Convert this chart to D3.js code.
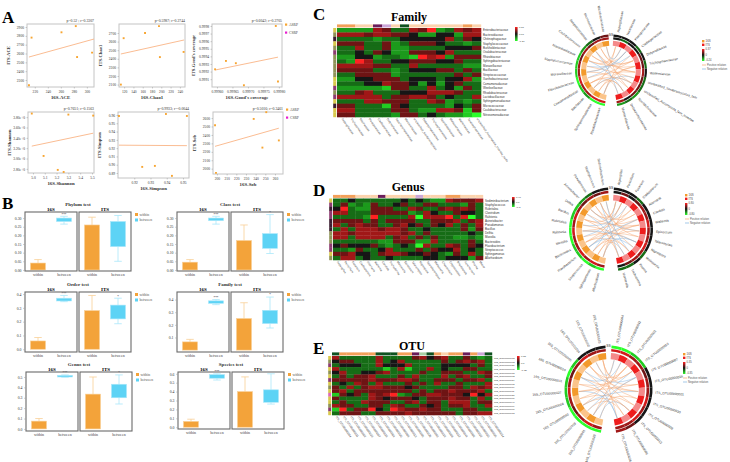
<!DOCTYPE html>
<html>
<head>
<meta charset="utf-8">
<script src="https://cdn.jsdelivr.net/npm/d3@7"></script>
<style>
  body { margin: 0; background: #fff; }
  svg { display: block; }
</style>
</head>
<body>
<svg id="fig" width="730" height="462"></svg>
<script>
// ---------- Panel A : alpha diversity correlations ----------
const alphaNames = ["ACE", "Chao1", "Good's coverage", "Shannon", "Simpson", "Sob"];
const alphaStats = ["p=0.52 ; r=0.3307", "p=0.5987; r=0.2744", "p=0.6042; r=0.2705",
                    "p=0.7651; r=0.1563", "p=0.9933; r=-0.0044", "p=0.5016; r=0.3461"];
const alphaPoints = [
  [[211, 2240], [215, 2780], [261, 2840], [283, 2910], [285, 2560], [308, 2610]],
  [[113, 2100], [119, 2640], [165, 2700], [195, 2780], [197, 2420], [248, 2480]],
  [[0.999594, 0.99923], [0.999629, 0.99934], [0.999661, 0.99931], [0.999687, 0.99902], [0.999790, 0.99980], [0.999797, 0.99907]],
  [[4.99, 3.87], [5.09, 3.05], [5.21, 2.78], [5.26, 2.74], [5.30, 3.85], [5.51, 3.83]],
  [[0.9106, 0.9588], [0.9249, 0.8974], [0.9327, 0.8986], [0.9395, 0.9612], [0.9432, 0.8866], [0.9524, 0.9588]],
  [[198, 2515], [238, 2590], [251, 2670], [247, 2250], [264, 2335], [199, 1950]]
];
const alphaFit = [
  [211, 2560, 311, 2764], [113, 2456, 249, 2619], [0.999594, 0.99922, 0.999797, 0.99939],
  [4.99, 3.24, 5.51, 3.49], [0.9106, 0.9236, 0.9524, 0.9230], [198, 2265, 264, 2480]
];
const alphaXDomain = [[208, 311], [109, 251], [0.999584, 0.999810], [4.958, 5.517], [0.910, 0.9537], [195.9, 268.3]];
const alphaYDomain = [[2221, 2934], [2072, 2805], [0.998997, 0.999826], [2.72, 3.90], [0.884, 0.9636], [1937, 2672]];
const alphaXTicks = [[220, 240, 260, 280, 300], [120, 140, 160, 180, 200, 220, 240],
  [0.99960, 0.99965, 0.99970, 0.99975, 0.99980], [5.0, 5.1, 5.2, 5.3, 5.4, 5.5],
  [0.92, 0.93, 0.94, 0.95], [200, 210, 220, 230, 240, 250, 260]];
const alphaYTicks = [[2300, 2400, 2500, 2600, 2700, 2800, 2900], [2100, 2200, 2300, 2400, 2500, 2600, 2700],
  [0.9991, 0.9992, 0.9993, 0.9994, 0.9995, 0.9996, 0.9997, 0.9998], [2.8, 3.0, 3.2, 3.4, 3.6, 3.8],
  [0.89, 0.90, 0.91, 0.92, 0.93, 0.94, 0.95, 0.96], [2000, 2100, 2200, 2300, 2400, 2500, 2600]];
const alphaGroups = ["ASRP", "CSRP"];

// ---------- Panel B : within / between distances ----------
const levels = ["Phylum", "Class", "Order", "Family", "Genus", "Species"];
const boxGroups = ["within", "between"];
// [lower whisker, q1, q3, upper whisker]
const within16S  = [[0, 0, 0.040, 0.060], [0, 0, 0.045, 0.060], [0, 0, 0.060, 0.085], [0, 0, 0.065, 0.085], [0, 0, 0.075, 0.100], [0, 0, 0.065, 0.090]];
const between16S = [[0.265, 0.280, 0.300, 0.310], [0.265, 0.285, 0.300, 0.310], [0.345, 0.350, 0.370, 0.390], [0.360, 0.370, 0.390, 0.400], [0.498, 0.500, 0.515, 0.520], [0.530, 0.550, 0.590, 0.600]];
const withinITS  = [[0, 0, 0.260, 0.305], [0, 0, 0.170, 0.260], [0, 0, 0.280, 0.390], [0, 0, 0.250, 0.375], [0, 0, 0.335, 0.500], [0, 0, 0.400, 0.565]];
const betweenITS = [[0.050, 0.135, 0.280, 0.315], [0.095, 0.125, 0.210, 0.320], [0.185, 0.220, 0.320, 0.370], [0.175, 0.210, 0.315, 0.420], [0.240, 0.300, 0.430, 0.520], [0.260, 0.280, 0.420, 0.600]];
const sig16S = ["***", "***", "***", "***", "***", "***"];
const sigITS = ["", "*", "*", "*", "*", ""];
const boxYDomain = [[-0.006, 0.335], [-0.006, 0.335], [-0.02, 0.415], [-0.015, 0.46], [-0.02, 0.548], [-0.02, 0.62]];
const boxYTicks = [[0, 0.05, 0.10, 0.15, 0.20, 0.25, 0.30], [0, 0.05, 0.10, 0.15, 0.20, 0.25, 0.30],
  [0, 0.1, 0.2, 0.3, 0.4], [0.1, 0.2, 0.3, 0.4], [0, 0.1, 0.2, 0.3, 0.4, 0.5], [0, 0.1, 0.2, 0.3, 0.4, 0.5, 0.6]];

// ---------- Panels C-E : correlation heatmaps (0 = strong negative ... 8 = strong positive) ----------
const famRows = ["Enterobacteriaceae", "Bacteroidaceae", "Chitinophagaceae", "Staphylococcaceae", "Burkholderiaceae",
  "Oxalobacteraceae", "Rhizobiaceae", "Sphingobacteriaceae", "Moraxellaceae", "Bacillaceae", "Streptococcaceae",
  "Xanthobacteraceae", "Comamonadaceae", "Weeksellaceae", "Rhodobacteraceae", "Lactobacillaceae",
  "Sphingomonadaceae", "Micrococcaceae", "Caulobacteraceae", "Nitrosomonadaceae"];
const famCols = ["Aspergillaceae", "Trichocomaceae", "Nectriaceae", "Pleosporaceae", "Cladosporiaceae",
  "Didymellaceae", "Saccharomycetaceae", "Mortierellaceae", "unclassified_Sordariomycetes", "Debaryomycetaceae",
  "Trichosphaeriaceae", "Sporidiobolaceae", "Malasseziaceae", "Wallemiaceae", "Teratosphaeriaceae",
  "unclassified_Ascomycota_Incertae_sedis"];
const famCells = ["2222653365823656", "6665665542244266", "3333233444446354", "5553352355543323",
  "3363352233334445", "3343542255546333", "2244233218672555", "3286334455544533", "6666553363333322",
  "5555332344455353", "3355552333333535", "2244555344434462", "3334465542424533", "2222215533634253",
  "3356333444666533", "6666635566534336", "3336655533652323", "5533315433332435", "6633335532266515",
  "5533332553432210"];
const famTop = "ooppvlpgppppppop";
const famLeft = "ynkynmnnnnnyymnmykyy";
const famScale = ["0.37", "0.07", "-0.24"];

const genRows = ["Sediminibacterium", "Staphylococcus", "Rubritalea", "Clostridium", "Ralstonia",
  "Acinetobacter", "Pseudomonas", "Bacillus", "Delftia", "Massilia", "Bacteroides", "Flavobacterium",
  "Streptococcus", "Sphingomonas", "Allorhizobium"];
const genCols = ["Aspergillus", "Penicillium", "Fusarium", "Cladosporium", "Alternaria", "Wallemia", "Candida",
  "Trichoderma", "Mortierella", "Epicoccum", "Talaromyces", "Nigrospora", "Sporobolomyces", "Malassezia",
  "Chaetomium", "Cryptococcus", "Rhodotorula", "Acremonium", "Phoma", "Mucor"];
const genCells = ["33433333343432265556", "35232533453355333253", "48322555336533565653", "66333555552364335443",
  "33332833336066683703", "55553535555335556356", "63565533564535463536", "36366656653343333525",
  "66566666656353333343", "66366663563535332232", "33333322555226333353", "45444532343063365354",
  "33253346333535446343", "55644356654454325363", "36634334333344344425"];
const genTop = "ooopppvpppplpppooppp";
const genLeft = "ymkmmkkknnnmmyn";
const genScale = ["0.40", "0.0", "-0.8"];

const otuRows = ["16S_OTU00000012", "16S_OTU00000003", "16S_OTU00000021", "16S_OTU00000008", "16S_OTU00000015",
  "16S_OTU00000002", "16S_OTU00000034", "16S_OTU00000005", "16S_OTU00000019", "16S_OTU00000011",
  "16S_OTU00000027", "16S_OTU00000006", "16S_OTU00000040", "16S_OTU00000009", "16S_OTU00000001",
  "16S_OTU00000018"];
const otuCols = ["ITS_OTU00000004", "ITS_OTU00000011", "ITS_OTU00000002", "ITS_OTU00000023", "ITS_OTU00000007",
  "ITS_OTU00000016", "ITS_OTU00000001", "ITS_OTU00000030", "ITS_OTU00000009", "ITS_OTU00000013",
  "ITS_OTU00000005", "ITS_OTU00000026", "ITS_OTU00000003", "ITS_OTU00000019", "ITS_OTU00000008",
  "ITS_OTU00000012", "ITS_OTU00000041", "ITS_OTU00000006", "ITS_OTU00000022", "ITS_OTU00000010",
  "ITS_OTU00000035", "ITS_OTU00000014"];
const otuCells = ["6333336333356456335323", "4553336346333335356563", "3444336444633334444353",
  "6333333136133634335533", "4633445633335335553365", "3535563335363336356335", "5555565556653355535563",
  "3436536333535363353336", "5363566555453333553656", "5635555555535355655563", "1545365682355665554846",
  "5333365455543555655363", "3533655533563553666355", "6553355365335453556336", "1835584386556553335533",
  "3555335555655555535566"];
const otuTop = "gooooogggoovqgopoovolg";
const otuLeft = "ynmynymynyiyynmy";
const otuScale = ["0.35", "0.0", "-0.35"];

// ---------- Panels C-E : network circles ----------
const famLeftNodes = ["Rhodobacteraceae", "Sphingomonadaceae", "Bacillaceae", "Comamonadaceae", "Flavobacteriaceae",
  "Moraxellaceae", "Staphylococcaceae", "Nocardioidaceae", "Caulobacteraceae", "Streptococcaceae",
  "Micrococcaceae", "Microbacteriaceae"];
const famRightNodes = ["Aspergillaceae", "Nectriaceae", "Pleosporaceae", "Cladosporiaceae", "Didymellaceae",
  "Trichosphaeriaceae", "Wallemiaceae", "unclassified_Sordariomycetes_fam", "unclassified_Ascomycota_fam_Incertae",
  "Sporidiobolaceae", "Debaryomycetaceae", "Mortierellaceae"];
const famRing2 = "776676656566" + "434455655546";
const famRing3 = "002101112345" + "444343433232";
const famLinks = [[0, 3, 1], [0, 7, -1], [1, 5, 1], [1, 10, 1], [2, 0, 1], [2, 8, -1], [3, 4, 1], [3, 11, 1],
  [4, 2, -1], [4, 6, 1], [5, 9, 1], [5, 1, 1], [6, 3, -1], [6, 7, 1], [7, 0, 1], [7, 10, -1], [8, 5, 1],
  [8, 2, 1], [9, 8, 1], [9, 11, -1], [10, 4, 1], [10, 6, 1], [11, 1, -1], [11, 9, 1], [0, 5, 1], [3, 8, 1],
  [5, 2, -1], [7, 4, 1], [9, 6, 1], [2, 10, 1]];
const famLegend = ["0.37", "0", "-0.24"];

const genLeftNodes = ["Allorhizobium", "Sphingomonas", "Streptococcus", "Flavobacterium", "Bacteroides",
  "Massilia", "Ralstonia", "Rubritalea", "Bacillus", "Delftia", "Acinetobacter", "Pseudomonas",
  "Staphylococcus", "Sediminibacterium"];
const genRightNodes = ["Aspergillus", "Penicillium", "Fusarium", "Cladosporium", "Alternaria", "Candida",
  "Wallemia", "Epicoccum", "Talaromyces", "Nigrospora", "Malassezia", "Phoma", "Trichoderma", "Mortierella"];
const genRing2 = "67676676765656" + "45456676676654";
const genRing3 = "01011000112344" + "44434444443433";
const genLinks = [[0, 2, 1], [0, 9, -1], [1, 5, 1], [1, 12, 1], [2, 0, -1], [2, 7, 1], [3, 3, 1], [3, 10, -1],
  [4, 6, 1], [4, 13, 1], [5, 1, -1], [5, 8, 1], [6, 4, 1], [6, 11, 1], [7, 2, -1], [7, 9, 1], [8, 5, 1],
  [8, 0, 1], [9, 12, -1], [9, 6, 1], [10, 3, 1], [10, 7, -1], [11, 10, 1], [11, 1, 1], [12, 13, -1],
  [12, 4, 1], [13, 8, 1], [13, 11, -1], [0, 6, 1], [2, 11, 1], [4, 1, 1], [6, 9, -1], [8, 13, 1],
  [10, 0, 1], [12, 7, 1], [3, 5, -1]];
const genLegend = ["0.80", "0", "-0.80"];

const otuLeftNodes = ["16S_OTU00000018", "16S_OTU00000001", "16S_OTU00000009", "16S_OTU00000040",
  "16S_OTU00000006", "16S_OTU00000027", "16S_OTU00000011", "16S_OTU00000019", "16S_OTU00000005",
  "16S_OTU00000034", "16S_OTU00000002", "16S_OTU00000015"];
const otuRightNodes = ["ITS_OTU00000004", "ITS_OTU00000011", "ITS_OTU00000002", "ITS_OTU00000023",
  "ITS_OTU00000007", "ITS_OTU00000016", "ITS_OTU00000001", "ITS_OTU00000030", "ITS_OTU00000009",
  "ITS_OTU00000013", "ITS_OTU00000005", "ITS_OTU00000026"];
const otuRing2 = "676567656766" + "776656676766";
const otuRing3 = "000011101444" + "001144444456";
const otuLinks = [[0, 4, 1], [0, 9, -1], [1, 1, 1], [1, 7, 1], [2, 3, -1], [2, 10, 1], [3, 0, 1], [3, 6, -1],
  [4, 8, 1], [4, 2, 1], [5, 11, -1], [5, 5, 1], [6, 3, 1], [6, 9, 1], [7, 1, -1], [7, 6, 1], [8, 10, 1],
  [8, 4, -1], [9, 2, 1], [9, 8, 1], [10, 0, -1], [10, 7, 1], [11, 5, 1], [11, 11, 1], [1, 4, -1], [3, 9, 1],
  [5, 2, 1], [7, 11, -1], [9, 6, 1], [11, 3, 1]];
const otuLegend = ["0.35", "0", "-0.35"];

// ---------- drawing ----------
const serif = "'Liberation Serif', 'DejaVu Serif', serif";
const sans = "'Liberation Sans', 'DejaVu Sans', sans-serif";
const orange = "#f3a33a", cyan = "#5dd3f5";

const svg = d3.select("#fig");
svg.append("rect").attr("width", 730).attr("height", 462).attr("fill", "#fff");

const heat = d3.scaleLinear().domain(d3.range(9))
  .range(["#2bff2b", "#22cc22", "#1c9a1c", "#166c16", "#161616", "#6e1414", "#a01717", "#d21b1b", "#ff2222"]);
const annColor = { o: "#f3a05a", p: "#fcd3ad", v: "#6a1c5a", l: "#cba6d8", g: "#0f5220", q: "#a9cfa3",
  y: "#d8c94c", k: "#3b1d30", m: "#8d3b70", n: "#8f9358", i: "#e068b8" };

const defs = svg.append("defs");
const grad = defs.append("linearGradient").attr("id", "heatGrad").attr("x1", 0).attr("x2", 0).attr("y1", 0).attr("y2", 1);
[[0, 8], [0.5, 4], [1, 0]].forEach(([o, v]) => grad.append("stop").attr("offset", o).attr("stop-color", heat(v)));

function letter(t, x, y) {
  svg.append("text").attr("x", x).attr("y", y).text(t)
    .attr("font-family", serif).attr("font-weight", "bold").attr("font-size", 17);
}

function styleAxis(a, fs) {
  a.select(".domain").remove();
  a.selectAll("line").attr("stroke", "#888").attr("stroke-width", 0.4);
  a.selectAll("text").attr("font-size", fs).attr("font-family", serif).attr("fill", "#333");
}

// Panel A
const aBoxes = [[27, 24, 94, 87], [119, 24, 185, 87], [212, 24, 282, 87],
                [28, 112, 94, 173], [118, 112, 189, 178], [213, 112, 283, 174]];
const aFormats = [d3.format("d"), d3.format("d"), d3.format(".5f"), d3.format(".1f"), d3.format(".2f"), d3.format("d")];
const aYFormats = [d3.format("d"), d3.format("d"), d3.format(".4f"), d3.format(".2e"), d3.format(".2f"), d3.format("d")];

function drawScatter(i) {
  const [bx0, by0, bx1, by1] = aBoxes[i];
  const x = d3.scaleLinear().domain(alphaXDomain[i]).range([bx0, bx1]);
  const y = d3.scaleLinear().domain(alphaYDomain[i]).range([by1, by0]);
  const g = svg.append("g");
  g.append("rect").attr("x", bx0).attr("y", by0).attr("width", bx1 - bx0).attr("height", by1 - by0)
    .attr("fill", "none").attr("stroke", "#c4c4c4").attr("stroke-width", 1);
  const xa = g.append("g").attr("transform", `translate(0,${by1})`)
    .call(d3.axisBottom(x).tickValues(alphaXTicks[i]).tickFormat(aFormats[i]).tickSize(1.5).tickPadding(1.5));
  styleAxis(xa, 3.6);
  const ya = g.append("g").attr("transform", `translate(${bx0},0)`)
    .call(d3.axisLeft(y).tickValues(alphaYTicks[i]).tickFormat(aYFormats[i]).tickSize(1.5).tickPadding(1.5));
  styleAxis(ya, 3.6);
  const f = alphaFit[i];
  g.append("line").attr("x1", x(f[0])).attr("y1", y(f[1])).attr("x2", x(f[2])).attr("y2", y(f[3]))
    .attr("stroke", "#f9b486").attr("stroke-width", 0.9);
  g.selectAll(".pt").data(alphaPoints[i]).join("path")
    .attr("transform", d => `translate(${x(d[0])},${y(d[1])})`)
    .attr("d", d3.symbol(d3.symbolSquare, 3.6)).attr("fill", "#f7a531");
  g.append("text").attr("x", bx1).attr("y", by0 - 1.8).attr("text-anchor", "end")
    .attr("font-size", 3.8).attr("font-family", serif).attr("fill", "#333").text(alphaStats[i]);
  g.append("text").attr("x", (bx0 + bx1) / 2).attr("y", by1 + 12).attr("text-anchor", "middle")
    .attr("font-size", 4.8).attr("font-weight", "bold").attr("font-family", serif).attr("fill", "#333")
    .text("16S-" + alphaNames[i]);
  g.append("text").attr("transform", `translate(${bx0 - 17},${(by0 + by1) / 2}) rotate(-90)`)
    .attr("text-anchor", "middle").attr("font-size", 4.6).attr("font-weight", "bold")
    .attr("font-family", serif).attr("fill", "#333").text("ITS-" + alphaNames[i]);
}
d3.range(6).forEach(drawScatter);

[[285, 25], [286, 110]].forEach(([lx, ly]) => {
  alphaGroups.forEach((grp, k) => {
    svg.append("rect").attr("x", lx).attr("y", ly + k * 8 - 1.5).attr("width", 2.2).attr("height", 2.2)
      .attr("fill", k ? "#e81ecf" : "#f7a531");
    svg.append("text").attr("x", lx + 4).attr("y", ly + k * 8 + 0.8).attr("font-size", 3.6)
      .attr("font-family", serif).attr("fill", "#444").text(grp);
  });
});

// Panel B
const bPos = [[25, 212, 271], [177, 212, 271], [25, 292, 352], [177, 292, 352], [26, 372, 431], [178, 372, 429]];
function drawBoxes(i) {
  const [lx, top, bot] = bPos[i];
  const pw = 52, gap = 2;
  const y = d3.scaleLinear().domain(boxYDomain[i]).range([bot, top]);
  const g = svg.append("g");
  const panels = [
    { name: "16S", x0: lx, stats: [within16S[i], between16S[i]], sig: sig16S[i] },
    { name: "ITS", x0: lx + pw + gap, stats: [withinITS[i], betweenITS[i]], sig: sigITS[i] }
  ];
  panels.forEach(p => {
    const x = d3.scalePoint().domain(boxGroups).range([p.x0, p.x0 + pw]).padding(0.5);
    const bw = 15;
    boxGroups.forEach((grp, k) => {
      const [lo, q1, q3, hi] = p.stats[k];
      const cx = x(grp);
      const fill = k ? cyan : orange;
      const light = k ? "#a9e7fa" : "#f9cf96";
      g.append("line").attr("x1", cx).attr("x2", cx).attr("y1", y(q3)).attr("y2", y(hi)).attr("stroke", light).attr("stroke-width", 0.8);
      g.append("line").attr("x1", cx - bw / 4).attr("x2", cx + bw / 4).attr("y1", y(hi)).attr("y2", y(hi)).attr("stroke", light).attr("stroke-width", 0.8);
      if (lo < q1) {
        g.append("line").attr("x1", cx).attr("x2", cx).attr("y1", y(q1)).attr("y2", y(lo)).attr("stroke", light).attr("stroke-width", 0.8);
        g.append("line").attr("x1", cx - bw / 4).attr("x2", cx + bw / 4).attr("y1", y(lo)).attr("y2", y(lo)).attr("stroke", light).attr("stroke-width", 0.8);
      }
      g.append("rect").attr("x", cx - bw / 2).attr("y", y(q3)).attr("width", bw).attr("height", y(q1) - y(q3))
        .attr("fill", fill).attr("stroke", light).attr("stroke-width", 0.6);
      g.append("text").attr("x", cx).attr("y", bot + 5.2).attr("text-anchor", "middle").attr("font-size", 4)
        .attr("font-family", serif).attr("fill", "#444").text(grp);
    });
    if (p.sig) {
      g.append("text").attr("x", x("between")).attr("y", y(p.stats[1][3]) - 0.6).attr("text-anchor", "middle")
        .attr("font-size", 4.2).attr("font-family", sans).attr("fill", "#333").text(p.sig);
    }
    g.append("rect").attr("x", p.x0).attr("y", top).attr("width", pw).attr("height", bot - top)
      .attr("fill", "none").attr("stroke", "#6a6a6a").attr("stroke-width", 1.1);
    g.append("text").attr("x", p.x0 + pw / 2).attr("y", top - 1.2).attr("text-anchor", "middle")
      .attr("font-size", 5).attr("font-weight", "bold").attr("font-family", serif).text(p.name);
  });
  const ya = g.append("g").attr("transform", `translate(${lx - 0.6},0)`)
    .call(d3.axisLeft(y).tickValues(boxYTicks[i]).tickFormat(d3.format(i < 2 ? ".2f" : ".1f")).tickSize(1.4).tickPadding(1.5));
  styleAxis(ya, 3.8);
  g.append("text").attr("x", lx + pw + gap / 2).attr("y", top - 5.6).attr("text-anchor", "middle")
    .attr("font-size", 5).attr("font-weight", "bold").attr("font-family", serif).attr("fill", "#333")
    .text(levels[i] + " test");
  const lgx = lx + 2 * pw + gap + 4;
  boxGroups.forEach((grp, k) => {
    g.append("rect").attr("x", lgx).attr("y", top + 1 + k * 5.5).attr("width", 3).attr("height", 3)
      .attr("fill", k ? cyan : orange);
    g.append("text").attr("x", lgx + 4.5).attr("y", top + 3.6 + k * 5.5).attr("font-size", 3.8)
      .attr("font-family", serif).attr("fill", "#555").text(grp);
  });
}
d3.range(6).forEach(drawBoxes);

// Heatmaps
function drawHeatmap(s) {
  const rows = s.cells.map(r => r.split("").map(Number));
  const nc = rows[0].length;
  const x = d3.scaleBand().domain(d3.range(nc)).range([s.x0, s.x1]);
  const y = d3.scaleBand().domain(d3.range(rows.length)).range([s.y0, s.y1]);
  const g = svg.append("g");
  rows.forEach((r, ri) => {
    g.selectAll(null).data(r).join("rect")
      .attr("x", (d, ci) => x(ci)).attr("y", y(ri))
      .attr("width", x.bandwidth() + 0.3).attr("height", y.bandwidth() + 0.3)
      .attr("fill", d => heat(d));
  });
  g.selectAll(null).data(s.top.split("")).join("rect")
    .attr("x", (d, ci) => x(ci)).attr("y", s.y0 - 3.6).attr("width", x.bandwidth() + 0.2).attr("height", 3)
    .attr("fill", d => annColor[d]);
  g.selectAll(null).data(s.left.split("")).join("rect")
    .attr("x", s.x0 - 3.8).attr("y", (d, ri) => y(ri)).attr("width", 3).attr("height", y.bandwidth() + 0.2)
    .attr("fill", d => annColor[d]);
  g.selectAll(null).data(s.rowNames).join("text")
    .attr("x", s.x1 + 2).attr("y", (d, ri) => y(ri) + y.bandwidth() / 2 + 1)
    .attr("font-size", s.rowFont).attr("font-family", sans).attr("fill", "#333").text(d => d);
  g.selectAll(null).data(s.colNames).join("text")
    .attr("transform", (d, ci) => `translate(${x(ci) + x.bandwidth() / 2},${s.y1 + 2}) rotate(55)`)
    .attr("font-size", 2.9).attr("font-family", sans).attr("fill", "#444").text(d => d);
  g.append("text").attr("x", (s.x0 + s.x1) / 2).attr("y", s.titleY).attr("text-anchor", "middle")
    .attr("font-size", 12).attr("font-weight", "bold").attr("font-family", serif).text(s.title);
  g.append("rect").attr("x", s.lx).attr("y", s.ly0).attr("width", 2.6).attr("height", s.ly1 - s.ly0)
    .attr("fill", "url(#heatGrad)");
  s.scale.forEach((t, k) => {
    g.append("text").attr("x", s.lx + 4).attr("y", s.ly0 + k * (s.ly1 - s.ly0) / 2 + 1)
      .attr("font-size", 2.5).attr("font-family", sans).attr("fill", "#333").text(t);
  });
}

drawHeatmap({ cells: famCells, top: famTop, left: famLeft, rowNames: famRows, colNames: famCols, scale: famScale,
  x0: 337, x1: 481, y0: 28, y1: 117, title: "Family", titleY: 21, lx: 515, ly0: 27, ly1: 41, rowFont: 2.9 });
drawHeatmap({ cells: genCells, top: genTop, left: genLeft, rowNames: genRows, colNames: genCols, scale: genScale,
  x0: 333, x1: 483, y0: 198.5, y1: 260, title: "Genus", titleY: 191, lx: 512, ly0: 197, ly1: 207, rowFont: 2.9 });
drawHeatmap({ cells: otuCells, top: otuTop, left: otuLeft, rowNames: otuRows, colNames: otuCols, scale: otuScale,
  x0: 332, x1: 492, y0: 356, y1: 415, title: "OTU", titleY: 350, lx: 517, ly0: 356, ly1: 370, rowFont: 2.3 });

// Network circles
function drawCircle(s) {
  const deg = Math.PI / 180;
  const R = s.r;
  const g = svg.append("g").attr("transform", `translate(${s.cx},${s.cy})`);
  const lScale = d3.scaleBand().domain(d3.range(s.left.length)).range([190 * deg, 356 * deg]);
  const rScale = d3.scaleBand().domain(d3.range(s.right.length)).range([4 * deg, 170 * deg]);
  const nodes = s.left.map((n, i) => ({ name: n, side: 0, a0: lScale(i), a1: lScale(i) + lScale.bandwidth(), k: i }))
    .concat(s.right.map((n, i) => ({ name: n, side: 1, a0: rScale(i), a1: rScale(i) + rScale.bandwidth(), k: i })));
  const ring = (r0, r1) => d3.arc().innerRadius(r0).outerRadius(r1).startAngle(d => d.a0).endAngle(d => d.a1);
  const rIn0 = R * 0.69, rIn1 = R * 0.83;
  const pt = (a, r) => [r * Math.sin(a), -r * Math.cos(a)];
  // links
  s.links.forEach(([li, ri, sign]) => {
    const a = nodes[li], b = nodes[s.left.length + ri];
    const p1 = pt((a.a0 + a.a1) / 2, rIn0 - 0.5), p2 = pt((b.a0 + b.a1) / 2, rIn0 - 0.5);
    const path = d3.path();
    path.moveTo(p1[0], p1[1]);
    path.quadraticCurveTo(0, 0, p2[0], p2[1]);
    g.append("path").attr("d", path.toString()).attr("fill", "none")
      .attr("stroke", sign > 0 ? "#f5a56e" : "#7fb2de").attr("stroke-width", 0.55).attr("stroke-opacity", 0.85);
  });
  g.selectAll(null).data(nodes).join("path").attr("d", ring(rIn0, rIn1))
    .attr("fill", d => d.side ? (d.k % 2 ? "#ee1d1d" : "#f48a8a") : (d.k % 2 ? "#f39a2c" : "#fbc48a"));
  g.selectAll(null).data(nodes).join("path").attr("d", ring(R * 0.865, R * 0.925))
    .attr("fill", (d, i) => heat(+s.ring2[i]));
  g.selectAll(null).data(nodes).join("path").attr("d", ring(R * 0.94, R))
    .attr("fill", (d, i) => heat(+s.ring3[i]));
  g.append("text").attr("x", 0).attr("y", -R + 1.8).attr("text-anchor", "middle").attr("font-size", 3.4)
    .attr("font-weight", "bold").attr("font-family", sans).attr("fill", "#777").text("SS");
  g.selectAll(null).data(nodes).join("text")
    .attr("transform", d => {
      const a = (d.a0 + d.a1) / 2 / deg;
      return a < 180 ? `rotate(${a - 90}) translate(${R + 3},0)` : `rotate(${a + 90}) translate(${-R - 3},0)`;
    })
    .attr("text-anchor", d => (d.a0 + d.a1) / 2 / deg < 180 ? "start" : "end")
    .attr("dy", 1).attr("font-size", 3.3).attr("font-family", sans).attr("fill", "#333").text(d => d.name);
  // legend
  const lg = svg.append("g").attr("transform", `translate(${s.lx},${s.ly})`);
  [["16S", "#f39a2c"], ["ITS", "#ee1d1d"]].forEach(([t, c], k) => {
    lg.append("rect").attr("x", 0).attr("y", k * 3.6).attr("width", 2.4).attr("height", 2.4).attr("fill", c);
    lg.append("text").attr("x", 3.6).attr("y", k * 3.6 + 2.2).attr("font-size", 2.8).attr("font-family", sans)
      .attr("fill", "#444").text(t);
  });
  lg.append("rect").attr("x", 0).attr("y", 9).attr("width", 2.4).attr("height", 12).attr("fill", "url(#heatGrad)");
  s.legend.forEach((t, k) => lg.append("text").attr("x", 3.6).attr("y", 10 + k * 5.5).attr("font-size", 2.6)
    .attr("font-family", sans).attr("fill", "#444").text(t));
  [["Positive relation", "#f5a56e"], ["Negative relation", "#7fb2de"]].forEach(([t, c], k) => {
    lg.append("line").attr("x1", 0).attr("x2", 4).attr("y1", 25 + k * 4).attr("y2", 25 + k * 4)
      .attr("stroke", c).attr("stroke-width", 0.7);
    lg.append("text").attr("x", 5).attr("y", 26 + k * 4).attr("font-size", 2.7).attr("font-family", sans)
      .attr("fill", "#555").text(t);
  });
}

drawCircle({ cx: 611, cy: 70.5, r: 36, left: famLeftNodes, right: famRightNodes, ring2: famRing2, ring3: famRing3,
  links: famLinks, legend: famLegend, lx: 702, ly: 40 });
drawCircle({ cx: 611, cy: 229.5, r: 42, left: genLeftNodes, right: genRightNodes, ring2: genRing2, ring3: genRing3,
  links: genLinks, legend: genLegend, lx: 685, ly: 194 });
drawCircle({ cx: 608.5, cy: 389.5, r: 44, left: otuLeftNodes, right: otuRightNodes, ring2: otuRing2, ring3: otuRing3,
  links: otuLinks, legend: otuLegend, lx: 683, ly: 353 });

letter("A", 2, 23);
letter("B", 2, 209);
letter("C", 313, 20);
letter("D", 313, 196);
letter("E", 313, 354);
</script>
</body>
</html>
